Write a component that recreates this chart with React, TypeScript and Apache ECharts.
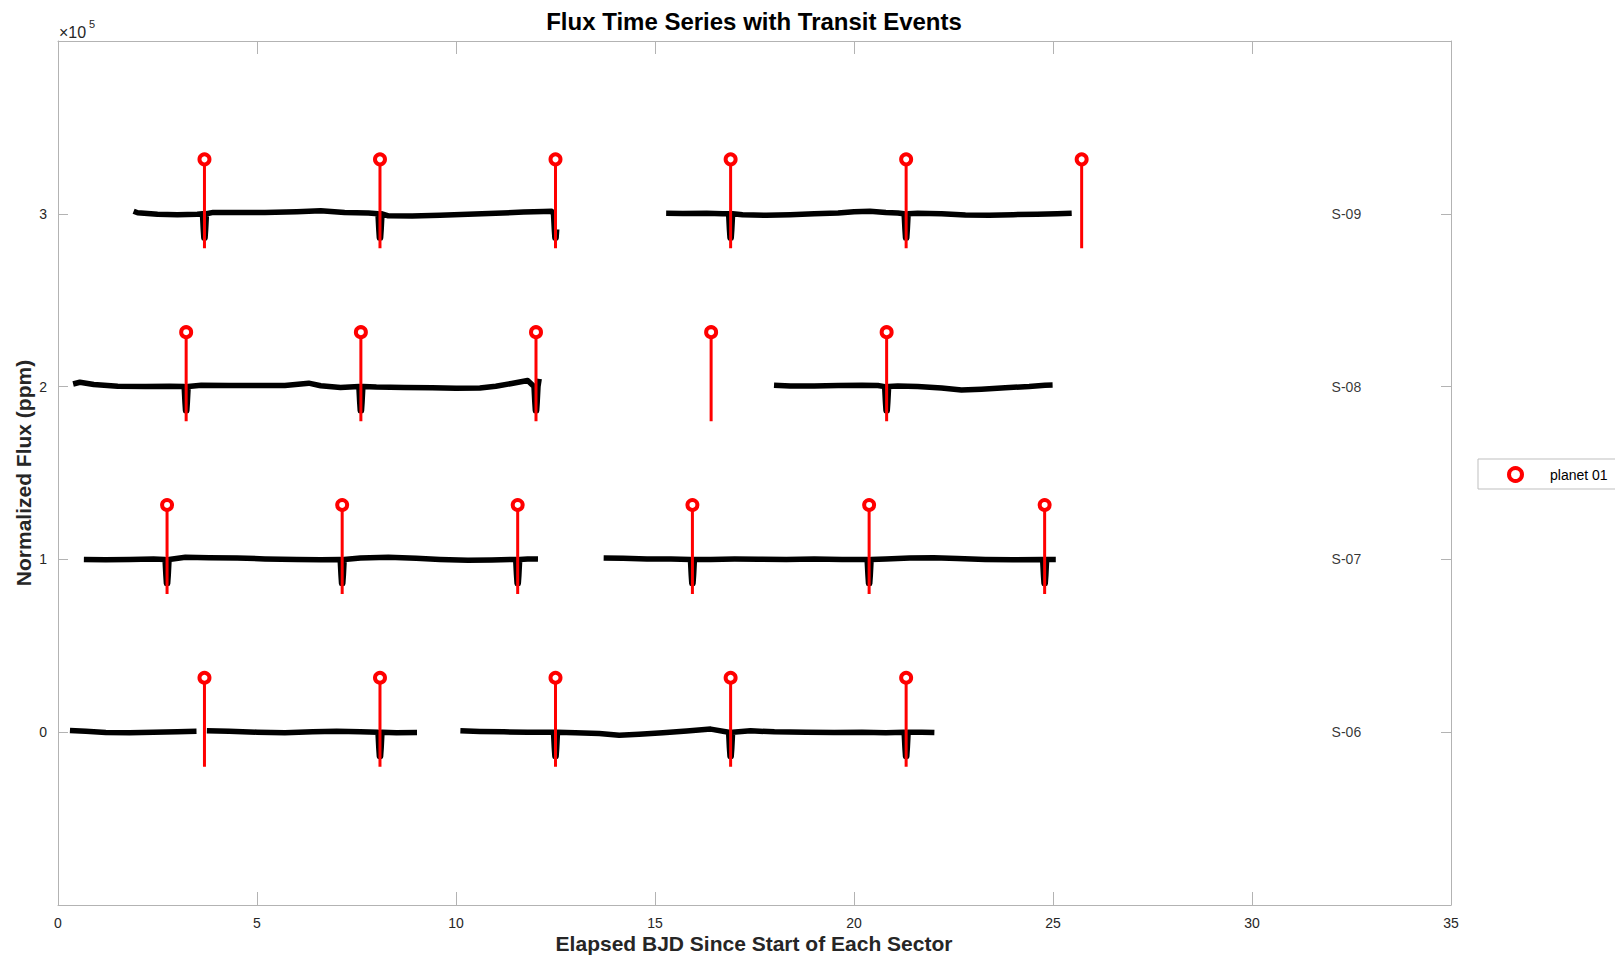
import React, { useEffect, useRef } from "react";
import * as echarts from "echarts";

// ---------- data ----------
const SECTOR_NAMES = ["S-06", "S-07", "S-08", "S-09"];
const SECTOR_OFFSETS = [0, 100000, 200000, 300000];

// transit mid-times (days since sector start)
const S06_TRANSITS = [3.68, 8.09, 12.5, 16.9, 21.31];
const S07_TRANSITS = [2.74, 7.14, 11.55, 15.94, 20.38, 24.79];
const S08_TRANSITS = [3.22, 7.61, 12.01, 16.41, 20.82];
const S09_TRANSITS = [3.68, 8.09, 12.5, 16.9, 21.31, 25.72];

// observed data segments [start, end]
const S06_SEGMENTS = [[0.3, 3.48], [3.74, 9.02], [10.11, 22.02]];
const S07_SEGMENTS = [[0.65, 12.06], [13.71, 25.07]];
const S08_SEGMENTS = [[0.38, 12.09], [17.99, 24.99]];
const S09_SEGMENTS = [[1.9, 12.53], [15.28, 25.47]];

// baseline flux relative to sector offset (ppm)
const S06_BASELINE = [
  [0.3, 1000], [0.7, 500], [1.2, -200], [1.8, -300], [2.4, 0], [3.0, 300], [3.48, 500],
  [3.74, 800], [4.3, 500], [5.0, 0], [5.7, -300], [6.4, 200], [7.0, 500], [7.6, 200], [8.5, -300], [9.02, -200],
  [10.11, 800], [10.6, 400], [11.2, 200], [11.8, 0], [13.0, -300], [13.6, -800], [14.1, -1800], [14.6, -1200],
  [15.2, -300], [15.8, 700], [16.4, 1800], [17.4, 800], [18.0, 200], [18.8, 0], [19.5, -200], [20.2, 0],
  [20.8, -300], [21.7, 0], [22.02, -200],
];
const S07_BASELINE = [
  [0.65, 0], [1.2, -200], [1.8, 0], [2.4, 200], [3.2, 1200], [3.8, 1000], [4.5, 800], [5.2, 300], [6.0, 0],
  [6.6, -200], [7.6, 800], [8.3, 1200], [9.0, 700], [9.6, 0], [10.3, -500], [10.9, -300], [11.8, 300], [12.06, 200],
  [13.71, 800], [14.2, 600], [14.8, 300], [15.4, 200], [16.4, 0], [17.0, 200], [17.6, 100], [18.3, 0], [19.0, 300],
  [19.7, 0], [20.8, 300], [21.4, 800], [22.0, 1000], [22.6, 500], [23.3, 0], [24.0, -200], [25.07, 0],
];
const S08_BASELINE = [
  [0.38, 1500], [0.55, 2500], [0.9, 1200], [1.5, 200], [2.2, 0], [2.8, 200], [3.6, 800], [4.3, 700], [5.0, 600],
  [5.7, 700], [6.1, 1500], [6.3, 2000], [6.6, 500], [7.1, -500], [8.0, -300], [8.7, -500], [9.4, -600], [10.0, -1000],
  [10.6, -800], [11.0, 200], [11.4, 1800], [11.8, 3500], [12.09, 4500],
  [17.99, 800], [18.4, 300], [19.0, 400], [19.6, 700], [20.2, 800], [20.6, 600], [21.1, 400], [21.6, 0], [22.2, -800],
  [22.7, -2000], [23.2, -1500], [23.8, -600], [24.4, 0], [24.8, 800], [24.99, 900],
];
const S09_BASELINE = [
  [1.9, 1500], [2.0, 600], [2.5, -300], [3.0, -500], [3.5, -300], [3.9, 800], [4.5, 700], [5.2, 800], [6.0, 1200],
  [6.6, 1800], [7.2, 700], [7.8, 500], [8.3, -1200], [8.9, -1300], [9.6, -800], [10.3, -300], [11.0, 300],
  [11.7, 1000], [12.2, 1300], [12.4, 1500],
  [15.28, 300], [15.7, 200], [16.3, 300], [16.7, 0], [17.2, -600], [17.8, -900], [18.4, -500], [19.0, 0], [19.6, 500],
  [20.0, 1200], [20.4, 1500], [20.8, 800], [21.1, 500], [21.6, 300], [22.2, 0], [22.8, -700], [23.4, -900],
  [24.0, -500], [24.6, -300], [25.1, 0], [25.47, 300],
];

// transit dip shape: [dt (days), flux (ppm)]
const DIP_PROFILE = [[-0.05, 0], [-0.03, -9000], [-0.015, -14000], [0.015, -14000], [0.03, -9000], [0.05, 0]];

// transit marker stem extent relative to sector offset
const STEM_LOW = -20000;
const STEM_HIGH = 31500;
const SECTOR_LABEL_X = 32;

const X_TICKS = { min: 0, max: 35, interval: 5 };
const Y_TICKS = { min: -100000, max: 400000, interval: 100000 };

const SECTORS = [
  { baseline: S06_BASELINE, segments: S06_SEGMENTS, transits: S06_TRANSITS },
  { baseline: S07_BASELINE, segments: S07_SEGMENTS, transits: S07_TRANSITS },
  { baseline: S08_BASELINE, segments: S08_SEGMENTS, transits: S08_TRANSITS },
  { baseline: S09_BASELINE, segments: S09_SEGMENTS, transits: S09_TRANSITS },
];

const FONT = "'Liberation Sans', Arial, Helvetica, sans-serif";

function buildCurve(baseline: number[][], segments: number[][], transits: number[], offset: number) {
  const out: any[] = [];
  segments.forEach(([s, e], i) => {
    const pts: any[] = [];
    baseline.forEach(([t, v]) => {
      if (t >= s - 1e-9 && t <= e + 1e-9 && !transits.some((T) => Math.abs(t - T) < 0.06)) {
        pts.push([t, offset + v]);
      }
    });
    transits.forEach((T) => {
      DIP_PROFILE.forEach(([dt, v]) => {
        const t = Math.round((T + dt) * 1000) / 1000;
        if (t >= s - 1e-9 && t <= e + 1e-9) pts.push([t, offset + v]);
      });
    });
    pts.sort((a, b) => a[0] - b[0]);
    if (i > 0) out.push([(segments[i - 1][1] + s) / 2, "-"]);
    out.push(...pts);
  });
  return out;
}

export default function App() {
  const ref = useRef<HTMLDivElement>(null);

  useEffect(() => {
    if (!ref.current) return;
    const chart = echarts.init(ref.current, null, { renderer: "svg" });

    const curveSeries = SECTORS.map((sec, i) => ({
      type: "line",
      name: SECTOR_NAMES[i],
      data: buildCurve(sec.baseline, sec.segments, sec.transits, SECTOR_OFFSETS[i]),
      showSymbol: false,
      symbol: "none",
      connectNulls: false,
      lineStyle: { color: "#000", width: 5.5, join: "round" },
      silent: true,
      z: 2,
      xAxisIndex: 0,
      yAxisIndex: 0,
    }));

    const stemData: any[] = [];
    const markerData: any[] = [];
    SECTORS.forEach((sec, i) => {
      sec.transits.forEach((T) => {
        stemData.push([T, SECTOR_OFFSETS[i] + STEM_LOW]);
        stemData.push([T, SECTOR_OFFSETS[i] + STEM_HIGH]);
        stemData.push([T, "-"]);
        markerData.push([T, SECTOR_OFFSETS[i] + STEM_HIGH]);
      });
    });

    const labelData = SECTOR_OFFSETS.map((off, i) => ({ value: [SECTOR_LABEL_X, off], name: SECTOR_NAMES[i] }));

    const axisLineColor = "#b3b3b3";
    const labelColor = "#262626";

    chart.setOption({
      animation: false,
      backgroundColor: "#fff",
      grid: { left: 58, right: 164, top: 41, bottom: 51 },
      xAxis: [
        {
          type: "value", ...X_TICKS, position: "bottom",
          axisLine: { show: true, onZero: false, lineStyle: { color: axisLineColor, width: 1 } },
          axisTick: { show: true, inside: true, length: 13, lineStyle: { color: axisLineColor } },
          axisLabel: { color: labelColor, fontSize: 14, margin: 11, fontFamily: FONT },
          splitLine: { show: false },
        },
        {
          type: "value", ...X_TICKS, position: "top",
          axisLine: { show: true, onZero: false, lineStyle: { color: axisLineColor, width: 1 } },
          axisTick: { show: true, inside: true, length: 13, lineStyle: { color: axisLineColor } },
          axisLabel: { show: false },
          splitLine: { show: false },
        },
      ],
      yAxis: [
        {
          type: "value", ...Y_TICKS, position: "left",
          axisLine: { show: true, onZero: false, lineStyle: { color: axisLineColor, width: 1 } },
          axisTick: { show: true, inside: true, length: 10, lineStyle: { color: axisLineColor } },
          axisLabel: {
            color: labelColor, fontSize: 14, margin: 11, fontFamily: FONT,
            formatter: (v: number) => (v < 0 || v > 300000 ? "" : String(Math.round(v / 100000))),
          },
          splitLine: { show: false },
        },
        {
          type: "value", ...Y_TICKS, position: "right",
          axisLine: { show: true, onZero: false, lineStyle: { color: axisLineColor, width: 1 } },
          axisTick: { show: true, inside: true, length: 10, lineStyle: { color: axisLineColor } },
          axisLabel: { show: false },
          splitLine: { show: false },
        },
      ],
      legend: {
        data: [{ name: "planet 01", icon: "circle" }],
        left: 1478, top: 459, orient: "vertical",
        backgroundColor: "#fff", borderColor: "#bfbfbf", borderWidth: 1, borderRadius: 0,
        padding: [7, 40, 6, 29],
        itemWidth: 13, itemHeight: 13,
        itemStyle: { color: "#fff", borderColor: "#ff0000", borderWidth: 4 },
        textStyle: { fontSize: 14, color: "#000", fontFamily: FONT, padding: [0, 0, 0, 23] },
        selectedMode: false,
      },
      series: [
        ...curveSeries,
        {
          type: "line", name: "stems", data: stemData, showSymbol: false, symbol: "none",
          connectNulls: false, lineStyle: { color: "#ff0000", width: 3 }, silent: true, z: 3,
        },
        {
          type: "scatter", name: "planet 01", data: markerData, symbol: "circle", symbolSize: 10,
          itemStyle: { color: "#fff", borderColor: "#ff0000", borderWidth: 4, opacity: 1 }, silent: true, z: 4,
        },
        {
          type: "scatter", name: "sector labels", data: labelData, symbolSize: 0, silent: true, z: 5,
          label: {
            show: true, position: "right", distance: 0, formatter: (p: any) => p.name,
            color: "#000", fontSize: 14, fontFamily: FONT,
          },
        },
      ],
      graphic: [
        {
          type: "text", x: 754, y: 21,
          style: {
            text: "Flux Time Series with Transit Events", fontSize: 24, fontWeight: "bold", fill: "#000",
            fontFamily: FONT, textAlign: "center", textVerticalAlign: "middle",
          },
        },
        {
          type: "text", x: 754, y: 943,
          style: {
            text: "Elapsed BJD Since Start of Each Sector", fontSize: 21, fontWeight: "bold", fill: "#262626",
            fontFamily: FONT, textAlign: "center", textVerticalAlign: "middle",
          },
        },
        {
          type: "text", x: 23, y: 473, rotation: Math.PI / 2,
          style: {
            text: "Normalized Flux (ppm)", fontSize: 21, fontWeight: "bold", fill: "#262626",
            fontFamily: FONT, textAlign: "center", textVerticalAlign: "middle",
          },
        },
        {
          type: "text", x: 59, y: 32,
          style: { text: "×10", fontSize: 16, fill: labelColor, fontFamily: FONT, textVerticalAlign: "middle" },
        },
        {
          type: "text", x: 89, y: 24,
          style: { text: "5", fontSize: 11, fill: labelColor, fontFamily: FONT, textVerticalAlign: "middle" },
        },
      ],
    });

    return () => chart.dispose();
  }, []);

  return <div ref={ref} style={{ position: "fixed", left: 0, top: 0, width: 1615, height: 956 }} />;
}
